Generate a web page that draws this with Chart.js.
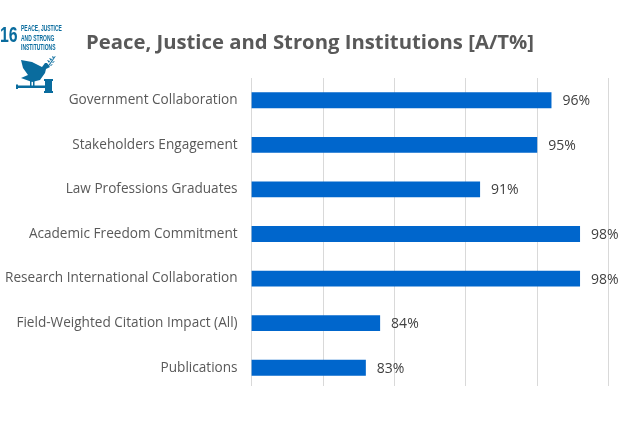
<!DOCTYPE html>
<html>
<head>
<meta charset="utf-8">
<style>
  html, body { margin: 0; padding: 0; background: #fff; }
  #wrap { position: relative; width: 623px; height: 435px; overflow: hidden; }
  #sdg { position: absolute; left: 0; top: 0; width: 70px; height: 100px; color: #0a6c9e; font-family: "Liberation Sans", sans-serif; }
  #sdg .num { position: absolute; left: 0; top: 22px; font-size: 22px; font-weight: bold; transform: scaleX(.72); transform-origin: left top; }
  #sdg .txt { position: absolute; left: 21px; top: 24px; font-size: 8.5px; line-height: 9.7px; font-weight: bold; white-space: nowrap; transform: scaleX(.585); transform-origin: left top; }
  #sdg svg { position: absolute; left: 0; top: 0; }
</style>
</head>
<body>
<div id="wrap">
  <canvas id="chart" width="623" height="435"></canvas>
  <div id="sdg">
    <span class="num">16</span>
    <span class="txt">PEACE, JUSTICE<br>AND STRONG<br>INSTITUTIONS</span>
    <svg width="70" height="100" viewBox="0 0 70 100" fill="#0a6c9e">
      <path d="M21 60 L32 62 L42 67 L45 63 L47 63 L50 67 L46 69 L45 73 L40 80 L32 82 L21 78 L28 75 L23 68Z"/>
      <rect x="30" y="81" width="1.5" height="5"/>
      <rect x="33" y="81" width="1.5" height="5"/>
      <rect x="16" y="85.5" width="29" height="2.5"/>
      <rect x="16" y="84.5" width="2" height="4.5"/>
      <rect x="44" y="79" width="9" height="2"/>
      <rect x="45" y="81" width="7" height="10"/>
      <rect x="44" y="91" width="9" height="2"/>
      <path d="M47 67 L55 56 L55.6 56.6 L48 67.5Z"/>
      <path d="M49 63 L47 60 L50 61Z M51 61 L49 58 L52 59Z M53 59 L52 56 L54 57Z M50 65 L53 64 L51 66Z M52 62 L55 61 L53 63Z"/>
    </svg>
  </div>
</div>
<script src="https://cdn.jsdelivr.net/npm/chart.js@4"></script>
<script>
const categories = [
    "Government Collaboration",
    "Stakeholders Engagement",
    "Law Professions Graduates",
    "Academic Freedom Commitment",
    "Research International Collaboration",
    "Field-Weighted Citation Impact (All)",
    "Publications"
];
const attainment = [96, 95, 91, 98, 98, 84, 83];
const axisMin = 75;
const axisMax = 100;
const axisStep = 5;
const chartTitle = "Peace, Justice and Strong Institutions [A/T%]";

const fontName = '"Open Sans", sans-serif';

// title sits off centre, to the right of the SDG badge
const titleText = {
    id: 'titleText',
    afterDraw(chart) {
        const ctx = chart.ctx;
        ctx.save();
        ctx.font = 'bold 20.3px ' + fontName;
        ctx.fillStyle = '#595959';
        ctx.textBaseline = 'middle';
        ctx.fillText(chartTitle, 86, 43);
        ctx.restore();
    }
};

// gridlines stop a little above the bottom of the last category band
const shortGrid = {
    id: 'shortGrid',
    beforeDatasetsDraw(chart) {
        const ctx = chart.ctx;
        const x = chart.scales.x;
        ctx.save();
        ctx.strokeStyle = '#d9d9d9';
        ctx.lineWidth = 1;
        x.ticks.forEach(t => {
            const px = Math.floor(x.getPixelForValue(t.value)) + 0.5;
            ctx.beginPath();
            ctx.moveTo(px, chart.chartArea.top);
            ctx.lineTo(px, chart.chartArea.bottom - 4);
            ctx.stroke();
        });
        ctx.restore();
    }
};

// Excel style value labels, just right of each bar
const barLabels = {
    id: 'barLabels',
    afterDatasetsDraw(chart) {
        const ctx = chart.ctx;
        const bars = chart.getDatasetMeta(0).data;
        ctx.save();
        ctx.font = '14px ' + fontName;
        ctx.fillStyle = '#404040';
        ctx.textBaseline = 'middle';
        bars.forEach((bar, i) => {
            ctx.fillText(attainment[i] + '%', bar.x + 11, bar.y + 1);
        });
        ctx.restore();
    }
};

new Chart(document.getElementById('chart'), {
    type: 'bar',
    data: {
        labels: categories,
        datasets: [{
            data: attainment,
            backgroundColor: '#0066cc',
            barPercentage: 0.355,
            categoryPercentage: 1
        }]
    },
    options: {
        indexAxis: 'y',
        responsive: false,
        animation: false,
        layout: { padding: { left: 0, right: 14.4, top: 78, bottom: 45 } },
        plugins: {
            legend: { display: false },
            tooltip: { enabled: false },
            title: { display: false }
        },
        scales: {
            x: {
                min: axisMin,
                max: axisMax,
                ticks: { display: false, stepSize: axisStep },
                border: { display: false },
                grid: { display: false, drawTicks: false }
            },
            y: {
                afterFit(scale) { scale.width = 251.6; },
                ticks: { color: '#595959', font: { family: fontName, size: 13.6 }, padding: 14 },
                border: { display: false },
                grid: { display: false, drawTicks: false }
            }
        }
    },
    plugins: [shortGrid, barLabels, titleText]
});
</script>
</body>
</html>
